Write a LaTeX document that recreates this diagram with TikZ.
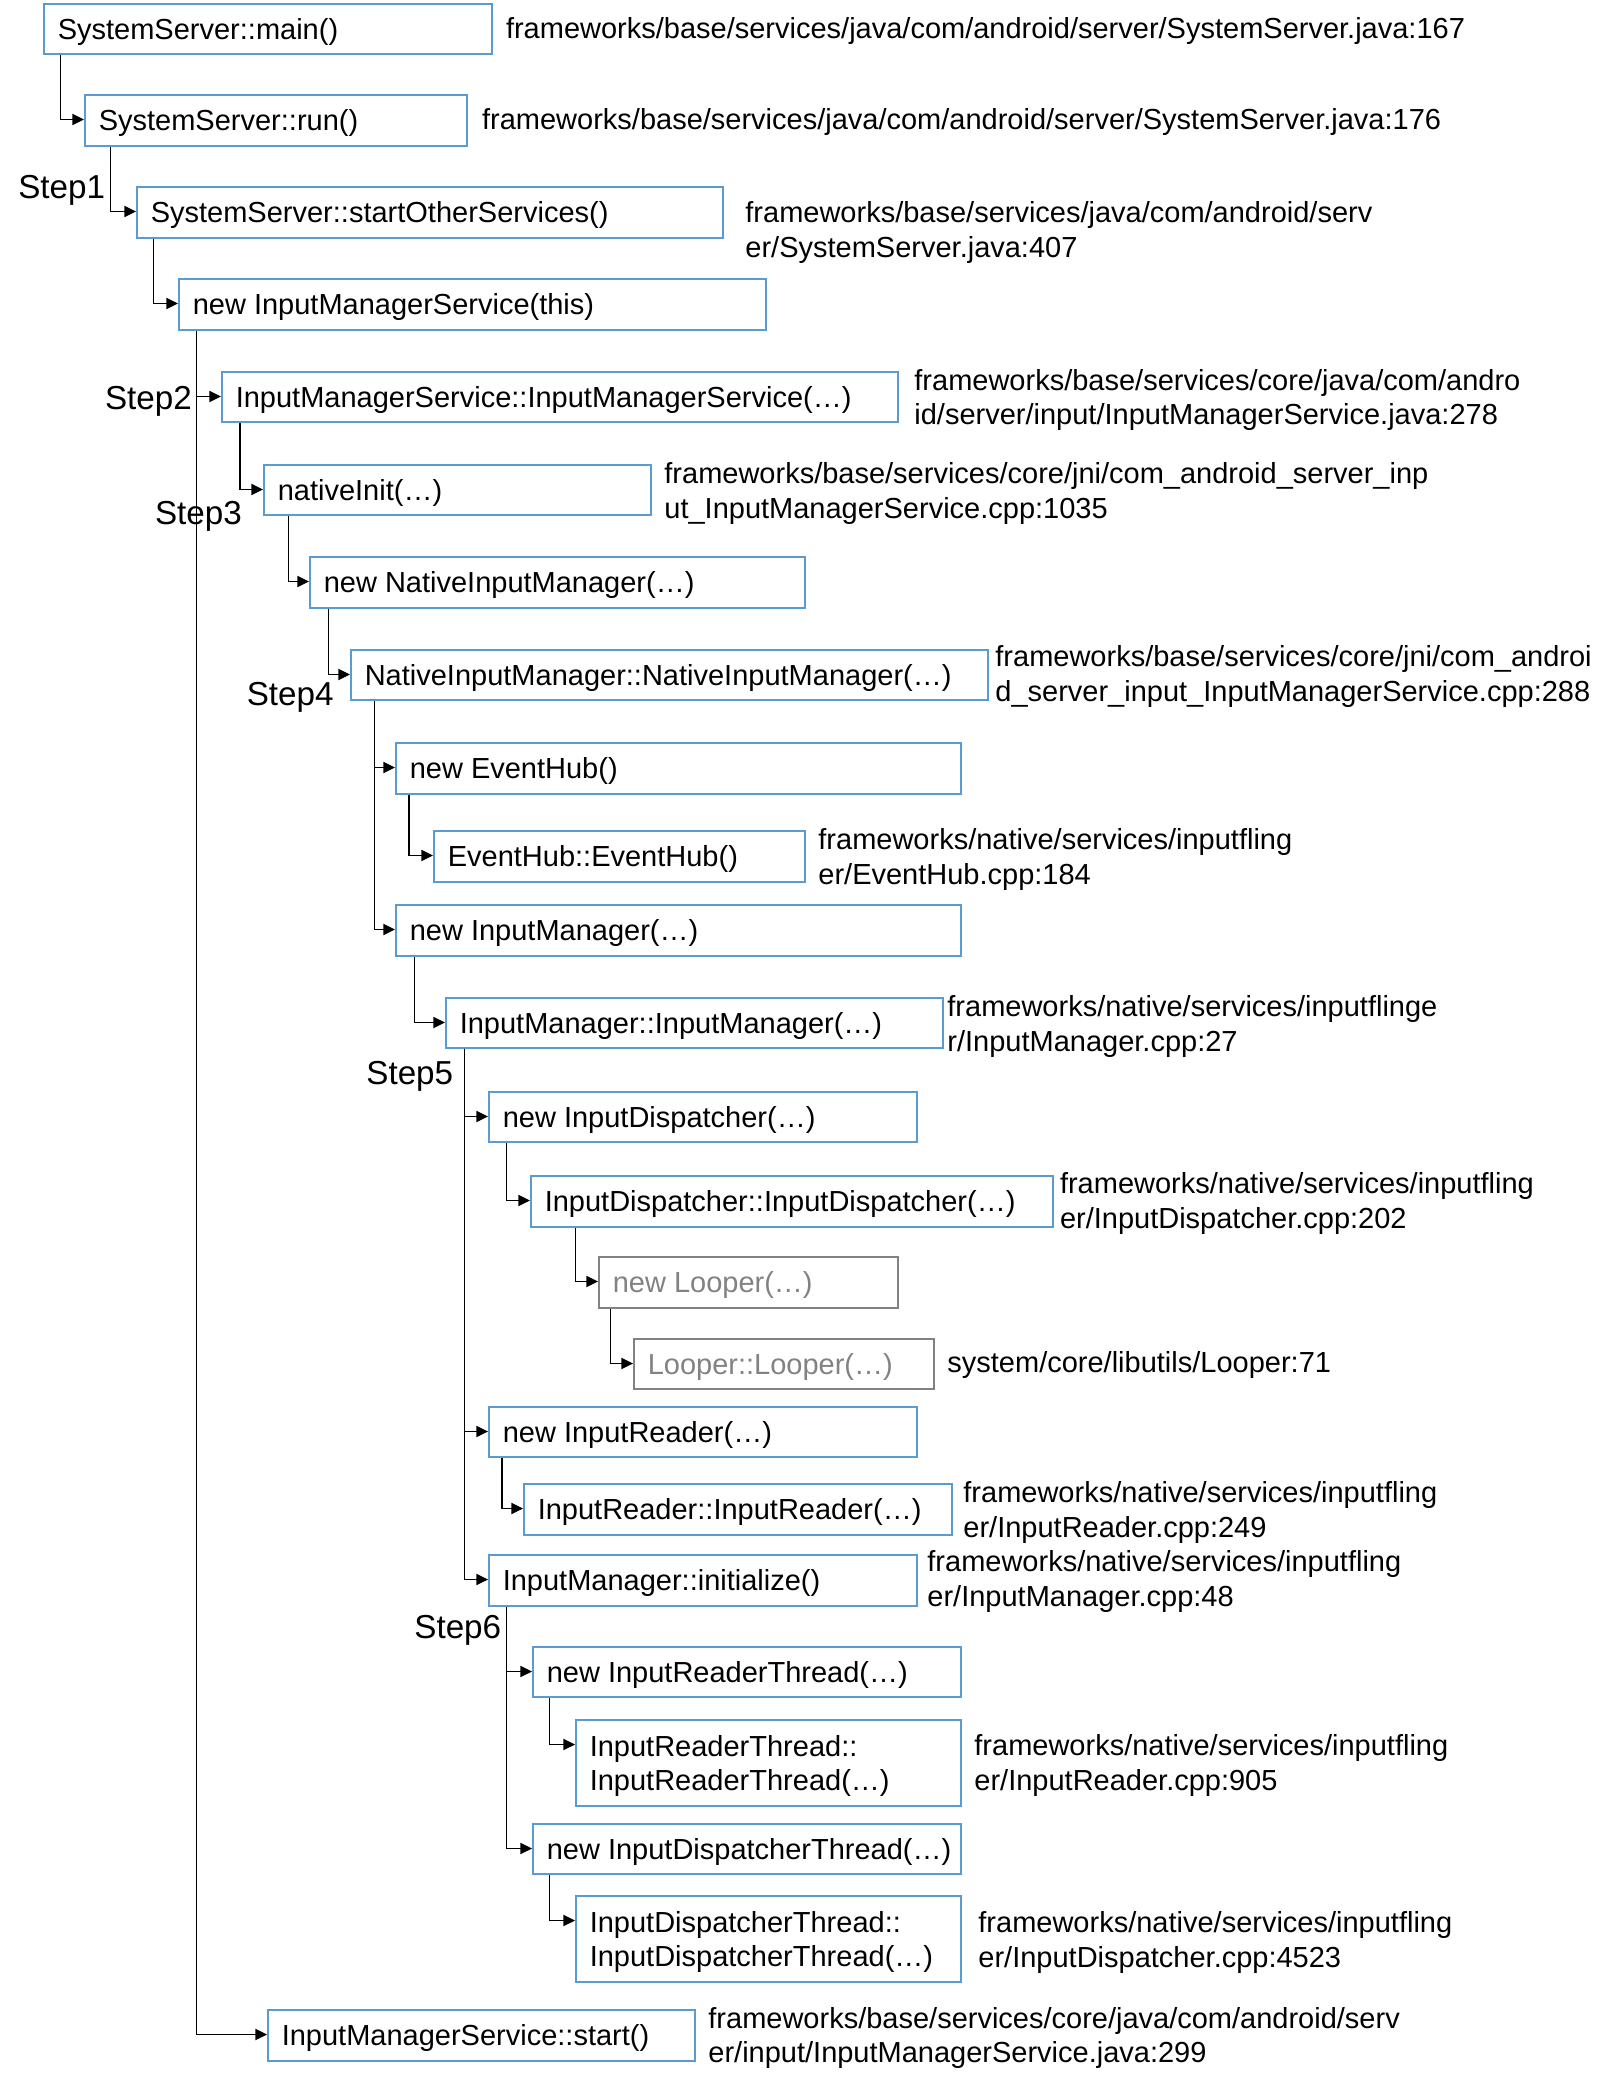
\documentclass[tikz,border=0pt]{standalone}
\usepackage{fontspec}
\setmainfont{Liberation Sans}
\usetikzlibrary{arrows.meta}
\definecolor{boxblue}{HTML}{5B9BD5}
\definecolor{boxgray}{HTML}{828282}
\tikzset{
  box/.style={draw=boxblue, line width=0.8pt, inner xsep=7pt, inner ysep=0pt,
    font=\fontsize{14.5pt}{17.3pt}\selectfont, text=black},
  grey/.style={draw=boxgray, text=boxgray},
  lbl/.style={inner sep=0pt, align=left, font=\fontsize{14.5pt}{17.3pt}\selectfont},
  steplbl/.style={inner sep=0pt, font=\fontsize{16.6pt}{20pt}\selectfont},
  arr/.style={line width=0.6pt, -{Triangle[length=5.8pt,width=5.6pt]}}
}
\newcommand\bx[7][]{%
  \node[box,#1,anchor=north west,minimum height={(#6-#4)*0.5pt},minimum width={(#5-#3)*0.5pt}] (#2) at (#3,#4)
   {\makebox[\dimexpr(#5pt-#3pt)/2-14pt\relax][l]{\raisebox{0pt}[\dimexpr\height+3.6pt\relax][\depth]{\begin{tabular}{@{}l@{}}#7\end{tabular}}}};}
\newcommand\conn[3]{\draw[arr] ([xshift={#2*0.5pt}]#1.south west) |- ([yshift=-12.75pt]#3.north west);}
\begin{document}
\begin{tikzpicture}[x=0.5pt,y=-0.5pt]
\useasboundingbox (0,0) rectangle (1614,2086);
\bx{b1}{43}{3}{491}{53}{SystemServer::main()}
\bx{b2}{84}{94}{466}{145}{SystemServer::run()}
\bx{b3}{136}{186}{722}{237}{SystemServer::startOtherServices()}
\bx{b4}{178}{278}{765}{329}{new InputManagerService(this)}
\bx{b5}{221}{371}{897}{421}{InputManagerService::InputManagerService(…)}
\bx{b6}{263}{464}{650}{514}{nativeInit(…)}
\bx{b7}{309}{556}{804}{607}{new NativeInputManager(…)}
\bx{b8}{350}{649}{987}{699}{NativeInputManager::NativeInputManager(…)}
\bx{b9}{395}{742}{960}{793}{new EventHub()}
\bx{b10}{433}{830}{804}{881}{EventHub::EventHub()}
\bx{b11}{395}{904}{960}{955}{new InputManager(…)}
\bx{b12}{445}{997}{942}{1047}{InputManager::InputManager(…)}
\bx{b13}{488}{1091}{916}{1141}{new InputDispatcher(…)}
\bx{b14}{530}{1175}{1052}{1226}{InputDispatcher::InputDispatcher(…)}
\bx[grey]{b15}{598}{1256}{897}{1307}{new Looper(…)}
\bx[grey]{b16}{633}{1338}{933}{1388}{Looper::Looper(…)}
\bx{b17}{488}{1406}{916}{1456}{new InputReader(…)}
\bx{b18}{523}{1483}{951}{1534}{InputReader::InputReader(…)}
\bx{b19}{488}{1554}{916}{1605}{InputManager::initialize()}
\bx{b20}{532}{1646}{960}{1696}{new InputReaderThread(…)}
\bx{b21}{575}{1719}{960}{1805}{InputReaderThread::\\InputReaderThread(…)}
\bx{b22}{532}{1823}{960}{1873}{new InputDispatcherThread(…)}
\bx{b23}{575}{1895}{960}{1981}{InputDispatcherThread::\\InputDispatcherThread(…)}
\bx{b24}{267}{2009}{694}{2060}{InputManagerService::start()}

\conn{b1}{17.3}{b2}
\conn{b2}{26.5}{b3}
\conn{b3}{17.8}{b4}
\conn{b4}{18.4}{b5}
\conn{b4}{18.4}{b24}
\conn{b5}{18.9}{b6}
\conn{b6}{25.5}{b7}
\conn{b7}{19.4}{b8}
\conn{b8}{24.4}{b9}
\conn{b8}{24.4}{b11}
\conn{b9}{13.9}{b10}
\conn{b11}{19.1}{b12}
\conn{b12}{19.1}{b13}
\conn{b12}{19.1}{b17}
\conn{b12}{19.1}{b19}
\conn{b13}{18.5}{b14}
\conn{b14}{45.5}{b15}
\conn{b15}{12.5}{b16}
\conn{b17}{14}{b18}
\conn{b19}{18.8}{b20}
\conn{b19}{18.8}{b22}
\conn{b20}{17.4}{b21}
\conn{b22}{17.4}{b23}

\node[lbl,anchor=west] (l1) at (505.6,31.5) {frameworks/base/services/java/com/android/server/SystemServer.java:167};
\node[lbl,anchor=west] (l2) at (481.7,122.5) {frameworks/base/services/java/com/android/server/SystemServer.java:176};
\node[lbl,anchor=west] (l3) at (745,232.5) {frameworks/base/services/java/com/android/serv\\er/SystemServer.java:407};
\node[lbl,anchor=west] (l5) at (914,400) {frameworks/base/services/core/java/com/andro\\id/server/input/InputManagerService.java:278};
\node[lbl,anchor=west] (l6) at (664,493.5) {frameworks/base/services/core/jni/com\_android\_server\_inp\\ut\_InputManagerService.cpp:1035};
\node[lbl,anchor=west] (l8) at (995,676.5) {frameworks/base/services/core/jni/com\_androi\\d\_server\_input\_InputManagerService.cpp:288};
\node[lbl,anchor=west] (l10) at (818,859.5) {frameworks/native/services/inputfling\\er/EventHub.cpp:184};
\node[lbl,anchor=west] (l12) at (947,1026.5) {frameworks/native/services/inputflinge\\r/InputManager.cpp:27};
\node[lbl,anchor=west] (l14) at (1059.6,1203.5) {frameworks/native/services/inputfling\\er/InputDispatcher.cpp:202};
\node[lbl,anchor=west] (l16) at (947,1364.5) {system/core/libutils/Looper:71};
\node[lbl,anchor=west] (l18) at (963,1512.5) {frameworks/native/services/inputfling\\er/InputReader.cpp:249};
\node[lbl,anchor=west] (l19) at (927,1581.5) {frameworks/native/services/inputfling\\er/InputManager.cpp:48};
\node[lbl,anchor=west] (l21) at (974,1765.5) {frameworks/native/services/inputfling\\er/InputReader.cpp:905};
\node[lbl,anchor=west] (l23) at (978,1942.5) {frameworks/native/services/inputfling\\er/InputDispatcher.cpp:4523};
\node[lbl,anchor=west] (l24) at (708,2038) {frameworks/base/services/core/java/com/android/serv\\er/input/InputManagerService.java:299};

\node[steplbl,anchor=base west] (s1) at (17.9,199) {Step1};
\node[steplbl,anchor=base west] (s2) at (104.6,409) {Step2};
\node[steplbl,anchor=base west] (s3) at (154.6,524) {Step3};
\node[steplbl,anchor=base west] (s4) at (246.4,705) {Step4};
\node[steplbl,anchor=base west] (s5) at (366,1084) {Step5};
\node[steplbl,anchor=base west] (s6) at (414,1638) {Step6};
\end{tikzpicture}
\end{document}
